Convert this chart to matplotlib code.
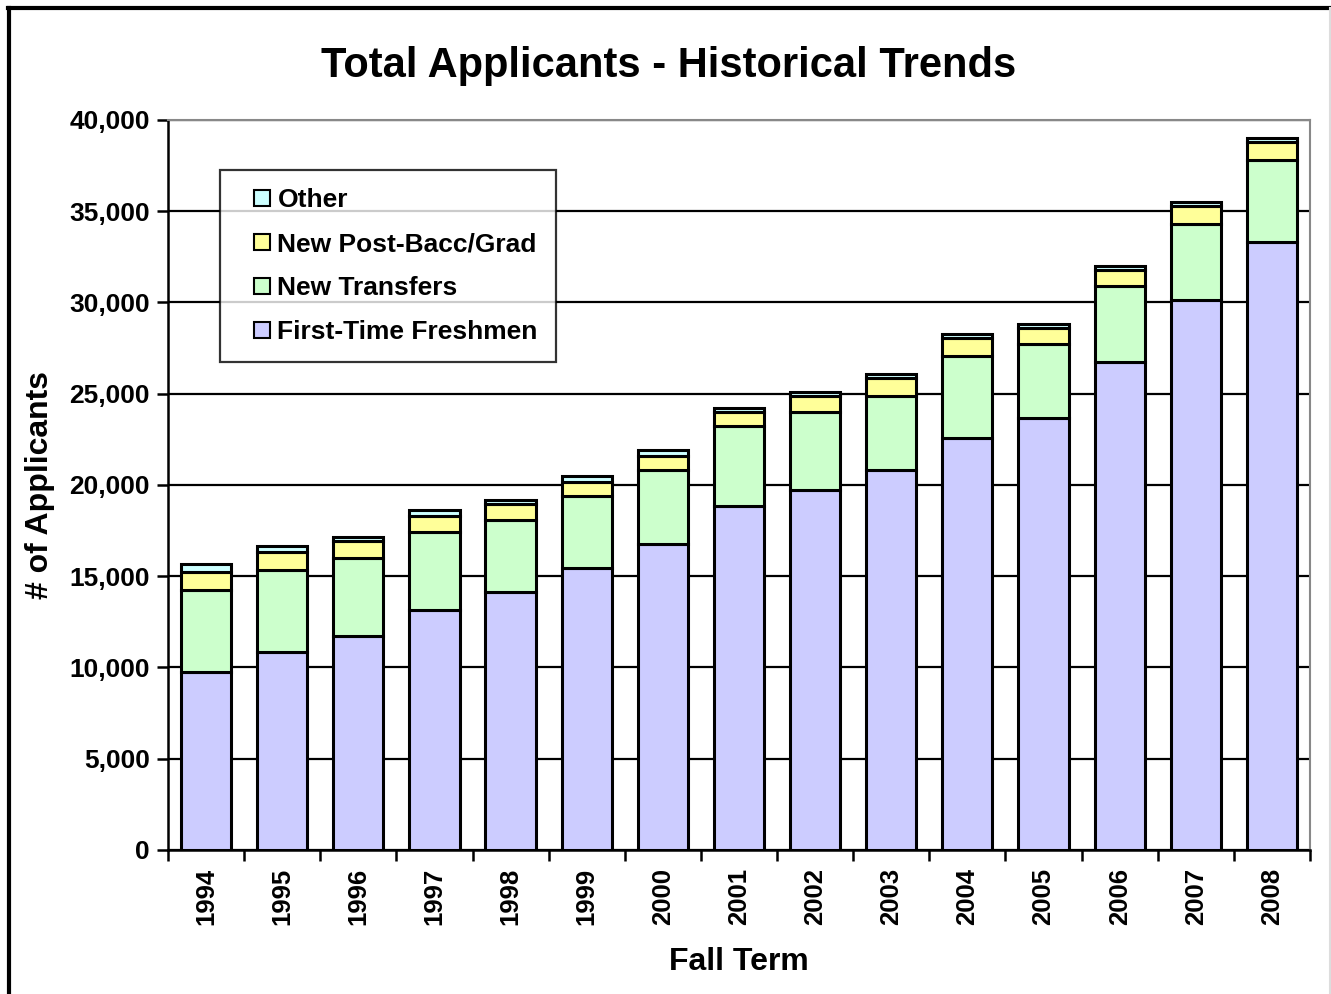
import matplotlib.pyplot as plt
from matplotlib.lines import Line2D
from matplotlib.patches import Rectangle
from matplotlib.container import BarContainer
from matplotlib.legend_handler import HandlerPatch, update_from_first_child
from matplotlib.ticker import FuncFormatter, FixedLocator
import numpy as np

plt.rcParams['font.family'] = ['Liberation Sans', 'DejaVu Sans']
plt.rcParams['font.weight'] = 'bold'

years = ['1994', '1995', '1996', '1997', '1998', '1999', '2000', '2001',
         '2002', '2003', '2004', '2005', '2006', '2007', '2008']
freshmen = [9750, 10850, 11720, 13150, 14140, 15450, 16770, 18850,
            19730, 20820, 22580, 23670, 26740, 30140, 33320]
transfers = [4500, 4490, 4280, 4270, 3940, 3950, 4050, 4380,
             4270, 4050, 4490, 4050, 4160, 4160, 4490]
grad = [990, 990, 930, 880, 880, 770, 770, 770,
        880, 990, 990, 880, 880, 990, 990]
other = [440, 330, 220, 330, 220, 330, 330, 220,
         220, 220, 220, 220, 220, 220, 220]

colors = {'First-Time Freshmen': '#CCCCFF', 'New Transfers': '#CCFFCC',
          'New Post-Bacc/Grad': '#FFFF99', 'Other': '#CCFFFF'}

fig = plt.figure(figsize=(13.31, 9.94), dpi=100)
ax = fig.add_axes([0.1262, 0.1449, 0.8580, 0.7344])

x = np.arange(len(years))
w = 0.66
bottom = np.zeros(len(years))
series = [('First-Time Freshmen', freshmen), ('New Transfers', transfers),
          ('New Post-Bacc/Grad', grad), ('Other', other)]
handles = []
for name, vals in series:
    b = ax.bar(x, vals, w, bottom=bottom, color=colors[name],
               edgecolor='black', linewidth=2.2, label=name, zorder=3)
    bottom += np.array(vals)
    handles.append(b)

ax.set_xlim(-0.5, len(years) - 0.5)
ax.set_ylim(0, 40000)
ax.set_yticks(np.arange(0, 40001, 5000))
ax.yaxis.set_major_formatter(FuncFormatter(lambda v, p: f'{int(v):,}'))
ax.grid(axis='y', color='black', linewidth=1.6, zorder=0)
ax.set_axisbelow(True)

ax.set_xticks(x)
ax.set_xticklabels(years, rotation=90, fontsize=18.5, fontweight='bold')
ax.tick_params(axis='x', which='major', length=0, pad=13)
ax.xaxis.set_minor_locator(FixedLocator(np.arange(-0.5, len(years), 1)))
ax.tick_params(axis='x', which='minor', length=8, width=1.8, direction='out')
ax.tick_params(axis='y', length=8, width=1.8, labelsize=19, pad=5)
for lbl in ax.get_yticklabels():
    lbl.set_fontweight('bold')

ax.spines['left'].set_linewidth(1.8)
ax.spines['bottom'].set_linewidth(1.8)
ax.spines['top'].set_color('#888888')
ax.spines['right'].set_color('#888888')
ax.spines['top'].set_linewidth(1.5)
ax.spines['right'].set_linewidth(1.5)

ax.set_xlabel('Fall Term', fontsize=23, fontweight='bold', labelpad=16)
ax.set_ylabel('# of Applicants', fontsize=23, fontweight='bold', labelpad=10)
fig.text(0.5026, 0.9336, 'Total Applicants - Historical Trends', ha='center',
         va='center', fontsize=30, fontweight='bold')


# small square legend key sitting at the right end of the handle box
def square_key(legend, orig_handle, xdescent, ydescent, width, height, fontsize):
    s = 11.5
    return Rectangle((-xdescent + width - s, -ydescent + (height - s) / 2), s, s)


leg = ax.legend(handles=handles[::-1], loc='upper left',
                bbox_to_anchor=(0.0455, 0.9315), fontsize=19, frameon=True,
                fancybox=False, edgecolor='black', handlelength=1.21,
                handleheight=0.7, handletextpad=0.27, labelspacing=0.75,
                borderpad=0.7, borderaxespad=0,
                handler_map={BarContainer: HandlerPatch(
                    patch_func=square_key, update_func=update_from_first_child)})
leg.get_frame().set_linewidth(1.6)
leg.set_zorder(5)
for h in leg.legend_handles:
    h.set_linewidth(1.5)
    h.set_edgecolor('black')

# outer frame of the picture
fig.add_artist(Line2D([0.006, 1.0], [0.992, 0.992], color='black', lw=3,
                      transform=fig.transFigure))
fig.add_artist(Line2D([0.0065, 0.0065], [0.0, 0.992], color='black', lw=3,
                      transform=fig.transFigure))
fig.add_artist(Line2D([0.999, 0.999], [0.0, 0.992], color='#dddddd', lw=1.5,
                      transform=fig.transFigure))

fig.savefig('out.png', dpi=100)
